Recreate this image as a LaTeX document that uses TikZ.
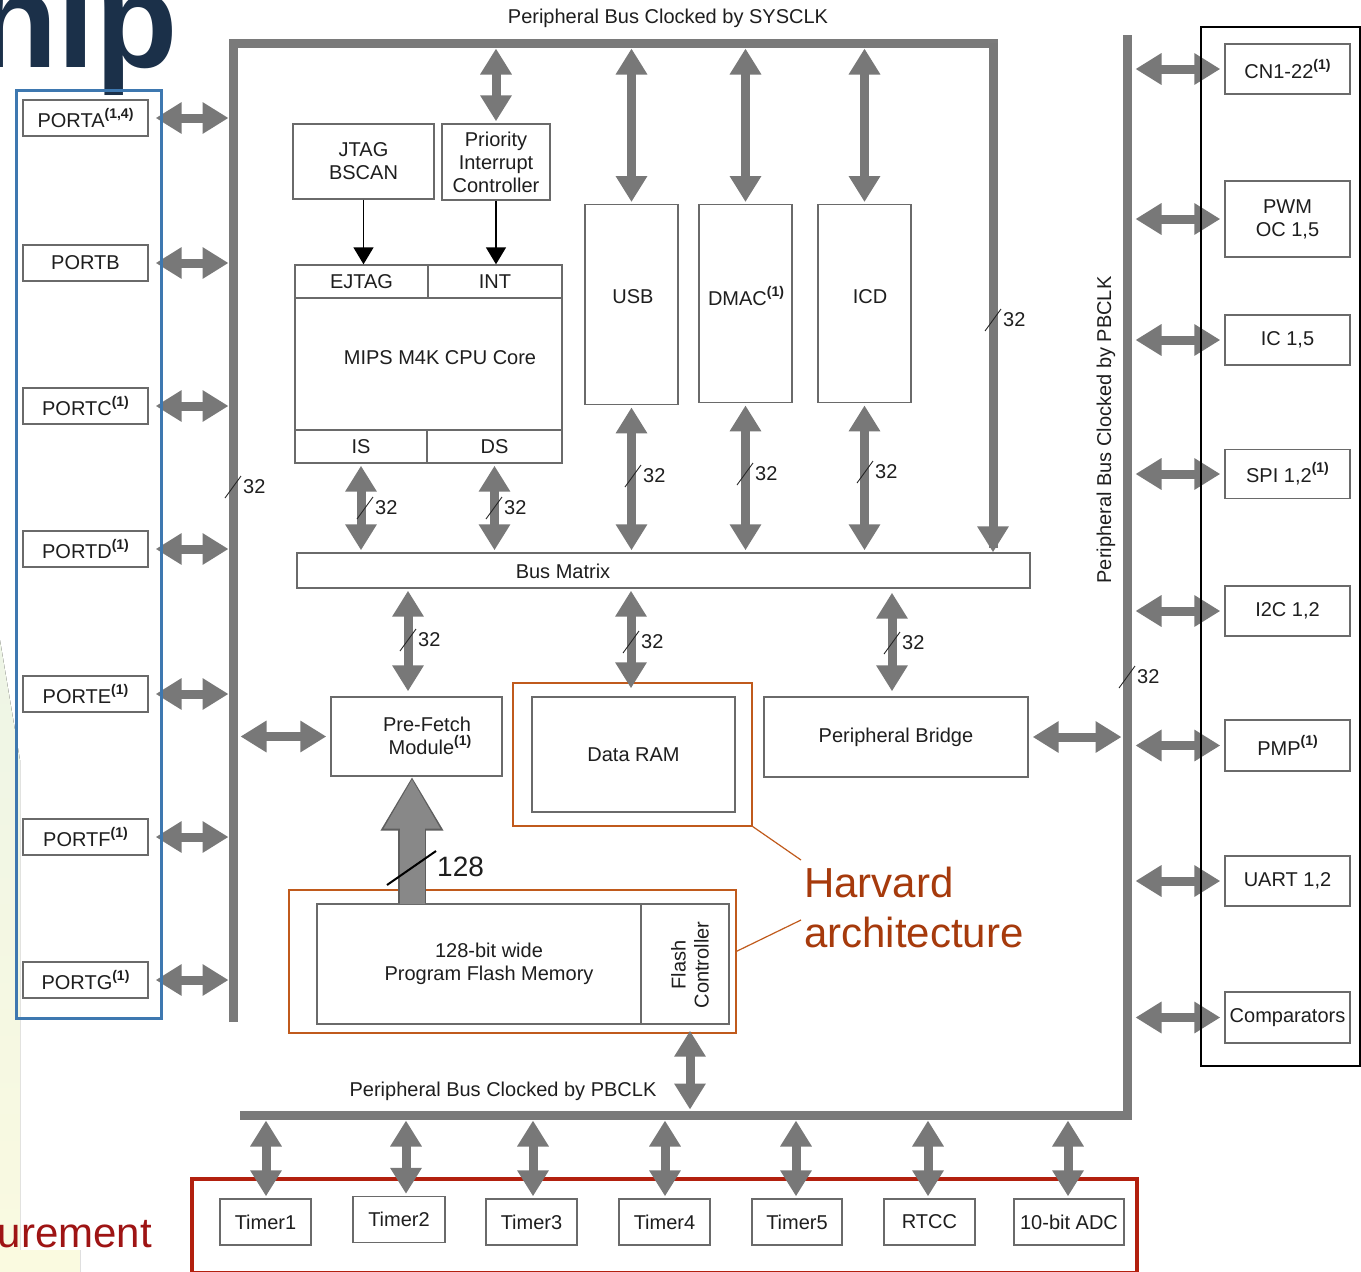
\documentclass[tikz,border=0pt]{standalone}
\usepackage{fontspec}
\setmainfont{Liberation Sans}
\usetikzlibrary{arrows.meta}
\definecolor{busgray}{HTML}{7A7A7A}
\definecolor{agray}{HTML}{787878}
\definecolor{bigarrow}{HTML}{888888}
\definecolor{bigedge}{HTML}{5E5E5E}
\definecolor{boxgray}{HTML}{6A6A6A}
\definecolor{txt}{HTML}{1E1E1E}
\definecolor{portblue}{HTML}{3E78B0}
\definecolor{hvorange}{HTML}{C05A1C}
\definecolor{hvtext}{HTML}{A63A0C}
\definecolor{redbox}{HTML}{B2200E}
\definecolor{navy}{HTML}{1B3049}
\definecolor{meas}{HTML}{9E1414}
\definecolor{bggreen}{HTML}{EEF5E6}
\definecolor{bgyellow}{HTML}{FAFAE0}

% footnote marks such as (1) or (1,4)
\newcommand\nsup[1]{\raisebox{0.48em}{\fontsize{14}{14}\selectfont\bfseries(#1)}}

\begin{document}
\begin{tikzpicture}[x=1pt,y=-1pt,
  every node/.style={font=\fontsize{20}{23}\selectfont, text=txt, inner sep=0pt},
  blk/.style={draw=boxgray, line width=1.4pt, fill=white, align=center},
  dbl/.style={draw=agray, line width=9pt,
    {Triangle[length=26pt,width=30pt]}-{Triangle[length=26pt,width=30pt]}},
  bus/.style={draw=busgray, line width=9pt, line join=miter},
  tick/.style={draw=black!85, line width=0.9pt},
  hv/.style={draw=hvorange, line width=1.8pt},
  blackarrow/.style={draw=black, line width=1.6pt, -{Triangle[length=17pt,width=20pt]}},
]
\useasboundingbox (0,0) rectangle (1361,1272);

% faint slide background at the left edge
\fill[top color=bggreen, bottom color=bgyellow, draw=none]
  (0,640) -- (20,760) -- (20,1250) -- (80,1250) -- (80,1272) -- (0,1272) -- cycle;

% slide title and side caption
\node[anchor=base east, font=\fontsize{135}{135}\selectfont\bfseries, text=navy] (ttl) at (178,67) {hip};
\node[anchor=base east, font=\fontsize{42}{42}\selectfont, text=meas] (msr) at (152,1247) {urement};

% reference coordinates for bus edges and arrow columns
\coordinate (lb) at (228.5,0);
\coordinate (lbr) at (237.5,0);
\coordinate (rtx) at (993,43);
\coordinate (tbb) at (0,47.5);
\coordinate (rbl) at (1122.5,0);
\coordinate (rbx) at (1131.5,0);
\coordinate (bbt) at (0,1110.5);
\coordinate (bbb) at (0,1119.5);
\coordinate (pfx) at (408,0);
\coordinate (drx) at (631,0);
\coordinate (brx) at (892,0);
\coordinate (bx) at (412,0);
\coordinate (fcx) at (690,0);

% outlines around the memory blocks and the timer group
\draw[hv] (513,683) rectangle (752,826);
\draw[hv] (289,890) rectangle (736,1033);
\node[minimum width=239pt, minimum height=143pt] (hvd) at (632.5,754.5) {};
\node[minimum width=447pt, minimum height=143pt] (hvp) at (512.5,961.5) {};
\draw[redbox, line width=4.5pt] (192,1179) rectangle (1137,1273);

% system bus (SYSCLK) and peripheral bus (PBCLK)
\draw[bus] (233,1022) -- (233,43) -- (rtx) -- (993,548);
\draw[bus] (240,1115) -- (1127,1115) -- (1127,35);

\node (sysclk) at (668,18) {Peripheral Bus Clocked by SYSCLK};
\node[rotate=90] (pbclkv) at (1106,430) {Peripheral Bus Clocked by PBCLK};
\node (pbclkh) at (503,1091) {Peripheral Bus Clocked by PBCLK};

% CPU side blocks
\node[blk, minimum width=141pt, minimum height=75pt] (jtag) at (363.5,161.5) {JTAG\\BSCAN};
\node[blk, minimum width=108pt, minimum height=76pt] (pic) at (496,162) {Priority\\Interrupt\\Controller};
\node[blk, minimum width=267pt, minimum height=198pt] (cpu) at (428.5,364) {};
\node[blk, minimum width=133pt, minimum height=33pt] (ejtag) at (361.5,281.5) {EJTAG};
\node[blk, minimum width=134pt, minimum height=33pt] (int) at (495,281.5) {INT};
\node[blk, minimum width=132pt, minimum height=33pt] (is) at (361,446.5) {IS};
\node[blk, minimum width=135pt, minimum height=33pt] (ds) at (494.5,446.5) {DS};
\node (cput) at (440,358) {MIPS M4K CPU Core};

\node[blk, minimum width=93pt, minimum height=200pt, anchor=north] (usb) at (631.5,204) {};
\node[blk, minimum width=93pt, minimum height=198pt, anchor=north] (dmac) at (745.5,204) {};
\node[blk, minimum width=93pt, minimum height=198pt, anchor=north] (icd) at (864.5,204) {};
\node (usbt) at (633,297) {USB};
\node (dmact) at (746,296) {DMAC\nsup{1}};
\node (icdt) at (870,297) {ICD};

\node[blk, minimum width=733pt, minimum height=35pt] (bm) at (663.5,570.5) {};
\node (bmt) at (563,571) {Bus Matrix};

\node[blk, minimum width=171pt, minimum height=79pt] (pf) at (416.5,736.5) {};
\node[align=center] (pft) at (427,736) {Pre-Fetch\\\hspace*{6pt}Module\nsup{1}};
\node[blk, minimum width=203pt, minimum height=115pt] (dram) at (633.5,754.5) {Data RAM};
\node[blk, minimum width=264pt, minimum height=80pt] (br) at (896,737) {Peripheral Bridge};
\node[blk, minimum width=324pt, minimum height=120pt] (pfm) at (479,964) {\hspace*{20pt}128-bit wide\\\hspace*{20pt}Program Flash Memory};
\node[blk, minimum width=88pt, minimum height=120pt] (fc) at (685,964) {};
\node[rotate=90, align=center] (fct) at (690,965) {Flash\\Controller};

% arrows on the system bus side
\draw[dbl, shorten <=1pt, shorten >=2pt] (pic.north |- tbb) -- (pic.north);
\draw[dbl, shorten <=1pt, shorten >=2pt] (usb.north |- tbb) -- (usb.north);
\draw[dbl, shorten <=1pt, shorten >=2pt] (dmac.north |- tbb) -- (dmac.north);
\draw[dbl, shorten <=1pt, shorten >=2pt] (icd.north |- tbb) -- (icd.north);
\draw[draw=agray, line width=9pt, -{Triangle[length=26pt,width=30pt]}] (rtx) -- (bm.north -| rtx);
\draw[blackarrow] (jtag.south) -- (jtag.south |- ejtag.north);
\draw[blackarrow] (pic.south) -- (pic.south |- int.north);
\draw[dbl, shorten <=2pt, shorten >=2pt] (is.south) -- (is.south |- bm.north);
\draw[dbl, shorten <=2pt, shorten >=2pt] (ds.south) -- (ds.south |- bm.north);
\draw[dbl, shorten <=2pt, shorten >=2pt] (usb.south) -- (usb.south |- bm.north);
\draw[dbl, shorten <=2pt, shorten >=2pt] (dmac.south) -- (dmac.south |- bm.north);
\draw[dbl, shorten <=2pt, shorten >=2pt] (icd.south) -- (icd.south |- bm.north);
\draw[dbl, shorten <=2pt, shorten >=5pt] (bm.south -| pfx) -- (pf.north -| pfx);
\draw[dbl, shorten <=2pt, shorten >=8pt] (bm.south -| drx) -- (dram.north -| drx);
\draw[dbl, shorten <=4pt, shorten >=5pt] (bm.south -| brx) -- (br.north -| brx);
\draw[dbl, shorten <=3pt, shorten >=4pt] (pf.west -| lbr) -- (pf.west);
\draw[dbl, shorten <=4pt, shorten >=1pt] (br.east) -- (br.east -| rbl);
\draw[dbl, shorten <=6pt, shorten >=1pt] (fc.south -| fcx) -- (bbt -| fcx);

% 128-bit path from flash to the prefetch buffer
\draw[draw=bigedge, line width=28pt, -{Triangle[length=54pt,width=59pt]}] (pfm.north -| bx) -- (pf.south -| bx);
\draw[draw=bigarrow, line width=25pt, shorten >=2pt, -{Triangle[length=50pt,width=53pt]}] ([yshift=-1pt]pfm.north -| bx) -- (pf.south -| bx);
\draw[draw=black, line width=2pt] (387,885) -- (436,851);
\node[anchor=west, font=\fontsize{28}{28}\selectfont] (w128) at (437,867) {128};

% bus width marks
\foreach \i/\xx/\yy in {1/233/487, 2/993/320, 3/365/508, 4/494/508, 5/633/476,
                       6/745/474, 7/865/472, 8/408/640, 9/631/642, 10/892/643, 11/1127/677} {
  \draw[tick] (\xx-8,\yy+11) -- (\xx+8,\yy-11);
  \node[anchor=west] (w\i) at (\xx+10,\yy) {32};
}

% I/O ports
\foreach \nm/\yy/\lab in {pA/118/{PORTA\nsup{1,4}}, pB/263/{PORTB}, pC/406/{PORTC\nsup{1}},
                          pD/549/{PORTD\nsup{1}}, pE/694/{PORTE\nsup{1}}, pF/837/{PORTF\nsup{1}},
                          pG/980/{PORTG\nsup{1}}} {
  \node[blk, minimum width=125pt, minimum height=36pt] (\nm) at (85.5,\yy) {\lab};
  \draw[dbl, shorten <=7pt] (\nm.east) -- (\nm.east -| lb);
}
\draw[portblue, line width=3pt] (16,90) rectangle (161,1018);

% peripherals on the PBCLK bus
\foreach \nm/\yy/\hh/\lab in {cn/69/50/{CN1-22\nsup{1}}, pwm/219/76/{PWM\\OC 1,5}, ic/340/50/{IC 1,5},
                              spi/474/49/{SPI 1,2\nsup{1}}, iic/611/50/{I2C 1,2}, pmp/745.5/51/{PMP\nsup{1}},
                              uart/881/50/{UART 1,2}, cmp/1017.5/51/{Comparators}} {
  \node[blk, minimum width=125pt, minimum height=\hh pt] (\nm) at (1287.5,\yy) {\lab};
  \draw[dbl, shorten <=4pt, shorten >=4pt] (\nm.west -| rbx) -- (\nm.west);
}
\draw[black, line width=1.5pt] (1201,27) rectangle (1360,1066);

% timers and converters
\foreach \nm/\xx/\yy/\ww/\lab in {t1/265.5/1222/91/Timer1, t2/399/1219.5/92/Timer2, t3/531.5/1222/91/Timer3,
                                 t4/664.5/1222/91/Timer4, t5/797/1222/90/Timer5, rtcc/929.5/1222/91/RTCC,
                                 adc/1069/1222/110/{10-bit ADC}} {
  \node[blk, minimum width=\ww pt, minimum height=46pt] (\nm) at (\xx,\yy) {\lab};
}
\foreach \nm/\xx in {t1/266, t2/406, t3/533, t4/665, t5/796, rtcc/928, adc/1068} {
  \coordinate (c\nm) at (\xx,0);
  \draw[dbl, shorten <=1pt, shorten >=2pt] (bbb -| c\nm) -- (\nm.north -| c\nm);
}

% Harvard architecture callout
\coordinate (hva) at (801,860);
\coordinate (hvb) at (801,920);
\draw[draw=hvorange, line width=1.2pt] (hvd.south east) -- (hva);
\draw[draw=hvorange, line width=1.2pt] ([yshift=10pt]hvp.east) -- (hvb);
\node[anchor=base west, font=\fontsize{42}{42}\selectfont, text=hvtext] (hv1) at (804,897) {Harvard};
\node[anchor=base west, font=\fontsize{42}{42}\selectfont, text=hvtext] (hv2) at (804,947) {architecture};
\end{tikzpicture}
\end{document}
